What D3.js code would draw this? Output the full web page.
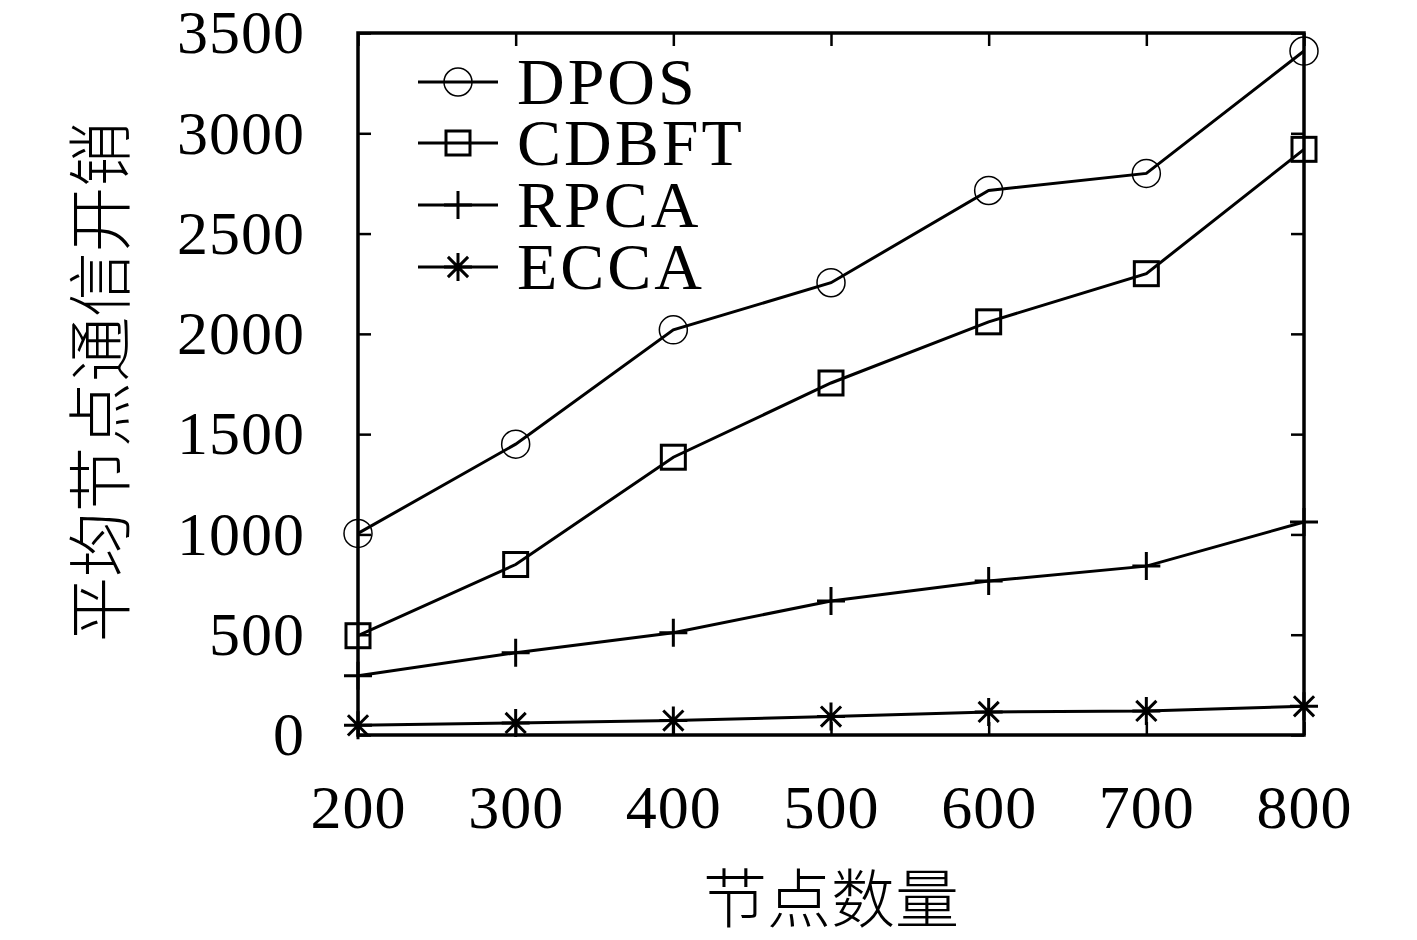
<!DOCTYPE html>
<html>
<head>
<meta charset="utf-8">
<script src="https://cdn.jsdelivr.net/npm/d3@7"></script>
<style>
  body { margin: 0; background: #fff; }
  text { fill: #000; }
</style>
</head>
<body>
<svg width="1417" height="940"></svg>
<script>
// data
const nodes = [200, 300, 400, 500, 600, 700, 800];
const dpos = [1005, 1450, 2020, 2255, 2715, 2800, 3410];
const cdbft = [495, 850, 1385, 1755, 2060, 2300, 2920];
const rpca = [295, 410, 510, 668, 768, 842, 1062];
const ecca = [48, 60, 72, 92, 115, 120, 143];
const yTicks = [0, 500, 1000, 1500, 2000, 2500, 3000, 3500];
const seriesNames = ["DPOS", "CDBFT", "RPCA", "ECCA"];

const mLeft = 358, mRight = 1304, mTop = 33, mBottom = 735;
const svg = d3.select("svg");

const x = d3.scaleLinear().domain([200, 800]).range([mLeft, mRight]);
const y = d3.scaleLinear().domain([0, 3500]).range([mBottom, mTop]);

const serif = "'Liberation Serif', 'DejaVu Serif', serif";

// axes with inward ticks
const tick = 13;
svg.append("g")
  .attr("transform", `translate(0,${mBottom})`)
  .call(d3.axisBottom(x).tickValues(nodes).tickSize(-tick).tickPadding(tick + 36).tickFormat(d3.format("d")))
  .call(g => g.select(".domain").remove())
  .selectAll("text").style("font-family", serif).style("font-size", "62px").style("letter-spacing", "1px");
svg.append("g")
  .attr("transform", `translate(0,${mTop})`)
  .call(d3.axisTop(x).tickValues(nodes).tickSize(-tick).tickFormat(""))
  .call(g => g.select(".domain").remove());
svg.append("g")
  .attr("transform", `translate(${mLeft},0)`)
  .call(d3.axisLeft(y).tickValues(yTicks).tickSize(-tick).tickPadding(tick + 40).tickFormat(d3.format("d")))
  .call(g => g.select(".domain").remove())
  .selectAll("text").style("font-family", serif).style("font-size", "62px").style("letter-spacing", "1px");
svg.append("g")
  .attr("transform", `translate(${mRight},0)`)
  .call(d3.axisRight(y).tickValues(yTicks).tickSize(-tick).tickFormat(""))
  .call(g => g.select(".domain").remove());
svg.selectAll(".tick line").attr("stroke", "#000").attr("stroke-width", 2.5);

svg.append("rect")
  .attr("x", mLeft).attr("y", mTop)
  .attr("width", mRight - mLeft).attr("height", mBottom - mTop)
  .attr("fill", "none").attr("stroke", "#000").attr("stroke-width", 3.5);

// markers
function drawMarker(g, type) {
  const s = 14;
  if (type === 0) {
    g.append("circle").attr("r", 14).attr("fill", "none").attr("stroke", "#000").attr("stroke-width", 1.5);
  } else if (type === 1) {
    g.append("rect").attr("x", -12).attr("y", -12).attr("width", 24).attr("height", 24)
      .attr("fill", "none").attr("stroke", "#000").attr("stroke-width", 3);
  } else if (type === 2) {
    g.append("path").attr("d", `M${-s},0H${s}M0,${-s}V${s}`).attr("stroke", "#000").attr("stroke-width", 3);
  } else {
    const d = s * 0.72;
    g.append("path").attr("d", `M${-s},0H${s}M0,${-s}V${s}M${-d},${-d}L${d},${d}M${-d},${d}L${d},${-d}`)
      .attr("stroke", "#000").attr("stroke-width", 3);
  }
}

const allSeries = [dpos, cdbft, rpca, ecca];
const line = d3.line().x((d, i) => x(nodes[i])).y(d => y(d));

allSeries.forEach((vals, k) => {
  svg.append("path").datum(vals)
    .attr("d", line)
    .attr("fill", "none").attr("stroke", "#000").attr("stroke-width", 3);
  vals.forEach((v, i) => {
    const g = svg.append("g").attr("transform", `translate(${x(nodes[i])},${y(v)})`);
    drawMarker(g, k);
  });
});

// legend
const legendY = [82, 143, 205, 267];
seriesNames.forEach((name, k) => {
  const g = svg.append("g").attr("transform", `translate(0,${legendY[k]})`);
  g.append("line").attr("x1", 418).attr("x2", 498).attr("stroke", "#000").attr("stroke-width", 3);
  drawMarker(g.append("g").attr("transform", "translate(458,0)"), k);
  g.append("text").attr("x", 517).attr("y", 22)
    .style("font-family", serif).style("font-size", "66px").style("letter-spacing", "3px").text(name);
});

// axis titles
const cjk = "'Noto Sans CJK SC', sans-serif";
svg.append("text")
  .attr("x", (mLeft + mRight) / 2).attr("y", 922)
  .attr("text-anchor", "middle")
  .style("font-family", cjk).style("font-size", "64px").style("font-weight", 300)
  .text("节点数量");
svg.append("text")
  .attr("transform", `translate(124,${(mTop + mBottom) / 2 - 2}) rotate(-90)`)
  .attr("text-anchor", "middle")
  .style("font-family", cjk).style("font-size", "65px").style("font-weight", 300)
  .text("平均节点通信开销");
</script>
</body>
</html>
